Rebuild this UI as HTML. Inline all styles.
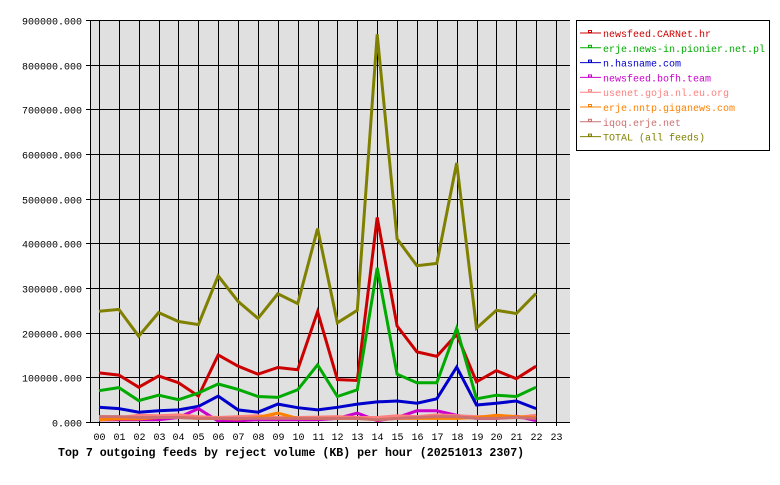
<!DOCTYPE html>
<html><head><meta charset="utf-8"><style>
body{margin:0;background:#fff;}
svg text{font-family:"Liberation Mono","DejaVu Sans Mono",monospace;font-size:10px;}
</style></head><body>
<svg id="s" width="780" height="480" xmlns="http://www.w3.org/2000/svg">
<rect x="90" y="20" width="480" height="402" fill="#e0e0e0"/>
<g id="grid" stroke="#000" stroke-width="1"></g>
<g id="labels"></g>
<g id="series" fill="none" stroke-width="3" stroke-linejoin="miter"></g>
<line x1="90.5" y1="20" x2="90.5" y2="423" stroke="#000"/>
<line x1="90" y1="422.5" x2="570" y2="422.5" stroke="#000"/>
<text x="58" y="456" style="font-weight:bold;font-size:11.6px">Top 7 outgoing feeds by reject volume (KB) per hour (20251013 2307)</text>
<rect x="576.5" y="20.5" width="193" height="130" fill="#fff" stroke="#000"/>
<g id="legend"></g>
</svg>
<script>
var NS="http://www.w3.org/2000/svg";
function el(t,a,p,txt){var e=document.createElementNS(NS,t);for(var k in a)e.setAttribute(k,a[k]);if(txt!=null)e.textContent=txt;document.getElementById(p).appendChild(e);}
function X(i){return 99+i*19.87;}
function Y(v){return 422-v*0.4467;}
for(var i=0;i<=23;i++){var x=Math.round(X(i))+0.5;el('line',{x1:x,y1:20,x2:x,y2:426},'grid');el('text',{x:x,y:440,'text-anchor':'middle'},'labels',(i<10?'0':'')+i);}
for(var j=0;j<=9;j++){var y=Math.round(Y(j*100))+0.5;el('line',{x1:86,y1:y,x2:570,y2:y},'grid');el('text',{x:82,y:y+4,'text-anchor':'end'},'labels',(j*100000)+'.000');}
var S=[
["newsfeed.CARNet.hr","#cc0000",[110,105,78,103,88,58,150,125,107,122,117,247,95,93,458,215,157,147,196,90,115,97,125]],
["erje.news-in.pionier.net.pl","#00aa00",[70,77,48,60,50,65,85,73,57,55,72,128,57,72,345,107,88,88,210,52,60,57,78]],
["n.hasname.com","#0000cc",[33,30,22,25,27,35,58,27,22,40,32,27,33,40,45,47,42,52,123,38,42,47,30]],
["newsfeed.bofh.team","#cc00cc",[5,5,5,5,10,30,2,3,5,5,5,5,8,20,3,10,25,25,15,8,8,13,3]],
["usenet.goja.nl.eu.org","#ff8080",[12,10,15,14,16,12,10,12,14,10,10,11,12,10,10,14,12,16,14,12,12,10,15]],
["erje.nntp.giganews.com","#ff8000",[5,7,7,10,10,8,8,7,10,20,8,8,8,8,5,8,8,8,8,10,15,12,10]],
["iqoq.erje.net","#cc7070",[12,12,10,10,10,8,8,8,8,8,8,8,8,8,5,8,10,12,12,8,8,10,8]],
["TOTAL (all feeds)","#808000",[248,252,192,245,225,218,327,270,232,287,265,433,222,250,868,410,350,355,580,210,250,243,288]]
];
S.forEach(function(s,k){
 var pts=s[2].map(function(v,i){return X(i).toFixed(1)+','+Y(v).toFixed(1);}).join(' ');
 el('polyline',{points:pts,stroke:s[1]},'series');
 var ly=33+k*14.8;
 el('line',{x1:580,y1:ly,x2:601,y2:ly,stroke:s[1],'stroke-width':1},'legend');
 el('rect',{x:588.5,y:ly-2.5,width:3,height:2,fill:'none',stroke:s[1],'stroke-width':1},'legend');
 el('text',{x:603,y:ly+4,fill:s[1]},'legend',s[0]);
});
</script>
</body></html>
